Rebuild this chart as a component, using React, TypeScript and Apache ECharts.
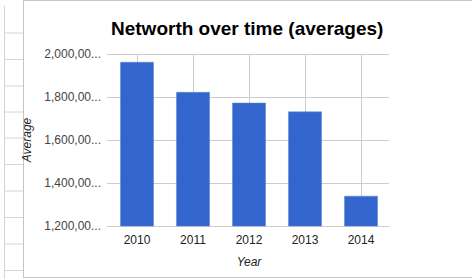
import React, { useEffect, useRef } from "react";
import * as echarts from "echarts";

const categories = ["2010", "2011", "2012", "2013", "2014"];
const averages = [1963000, 1823000, 1773000, 1732000, 1340000];
const yMin = 1200000;
const yMax = 2000000;
const yStep = 200000;
const titleText = "Networth over time (averages)";
const xName = "Year";
const yName = "Average";
const sheetRowLines = [33, 59.5, 86, 112, 138, 164.5, 191, 217.5, 244, 270.5];

const FONT = "'Liberation Sans', Arial, sans-serif";

export default function App() {
  const ref = useRef<HTMLDivElement>(null);
  useEffect(() => {
    if (!ref.current) return;
    const chart = echarts.init(ref.current, null, { renderer: "svg" });
    const lineCol = "#cccccc";
    const graphics: any[] = [
      { type: "line", shape: { x1: 23.5, y1: 0, x2: 23.5, y2: 278 }, style: { stroke: "#c4c4c4", lineWidth: 1 }, silent: true },
      { type: "line", shape: { x1: 4.5, y1: 6, x2: 4.5, y2: 279 }, style: { stroke: "#d4d4d4", lineWidth: 1 }, silent: true },
      { type: "line", shape: { x1: 23, y1: 0.5, x2: 472, y2: 0.5 }, style: { stroke: "#c4c4c4", lineWidth: 1 }, silent: true },
      { type: "line", shape: { x1: 23, y1: 277.5, x2: 472, y2: 277.5 }, style: { stroke: "#c4c4c4", lineWidth: 1 }, silent: true },
      ...sheetRowLines.map((y) => ({
        type: "line",
        shape: { x1: 4, y1: y, x2: 23, y2: y },
        style: { stroke: "#d4d4d4", lineWidth: 1 },
        silent: true,
      })),
    ];
    chart.setOption({
      animation: false,
      backgroundColor: "#ffffff",
      title: {
        text: titleText,
        left: 106,
        top: 14,
        textStyle: { fontFamily: FONT, fontSize: 19, fontWeight: "bold", color: "#000000" },
      },
      graphic: graphics,
      grid: { left: 109, top: 54, width: 280, bottom: 53, containLabel: false },
      xAxis: {
        type: "category",
        data: categories,
        name: xName,
        nameLocation: "middle",
        nameGap: 30,
        nameTextStyle: { fontFamily: FONT, fontSize: 12, fontStyle: "italic", color: "#222222" },
        axisLine: { show: true, lineStyle: { color: lineCol } },
        axisTick: { show: false },
        axisLabel: { fontFamily: FONT, fontSize: 12, color: "#222222", margin: 8 },
        splitLine: { show: false },
      },
      yAxis: {
        type: "value",
        min: yMin,
        max: yMax,
        interval: yStep,
        name: yName,
        nameLocation: "middle",
        nameGap: 73,
        nameTextStyle: { fontFamily: FONT, fontSize: 12, fontStyle: "italic", color: "#222222" },
        axisLine: { show: false },
        axisTick: { show: true, length: 2, lineStyle: { color: lineCol } },
        axisLabel: {
          fontFamily: FONT,
          fontSize: 12,
          color: "#444444",
          margin: 8,
          formatter: (v: number) => v.toLocaleString("en-US").slice(0, 8) + "...",
        },
        splitLine: { show: true, lineStyle: { color: lineCol } },
      },
      series: [
        {
          type: "custom",
          z: 1,
          silent: true,
          data: categories.map((_, i) => [i]),
          encode: { x: 0 },
          renderItem: (params: any, api: any) => {
            const x = Math.round(api.coord([api.value(0), yMin])[0]) + 0.5;
            const cs = params.coordSys;
            return {
              type: "line",
              shape: { x1: x, y1: cs.y, x2: x, y2: cs.y + cs.height },
              style: { stroke: lineCol, lineWidth: 1 },
            };
          },
        },
        {
          type: "bar",
          z: 2,
          data: averages,
          barWidth: "60%",
          itemStyle: { color: "#3366cc", borderColor: "#5a84d6", borderWidth: 0.5 },
        },
      ],
    });
    return () => chart.dispose();
  }, []);
  return (
    <div
      ref={ref}
      style={{ position: "fixed", left: 0, top: 0, width: 472, height: 279 }}
    />
  );
}
